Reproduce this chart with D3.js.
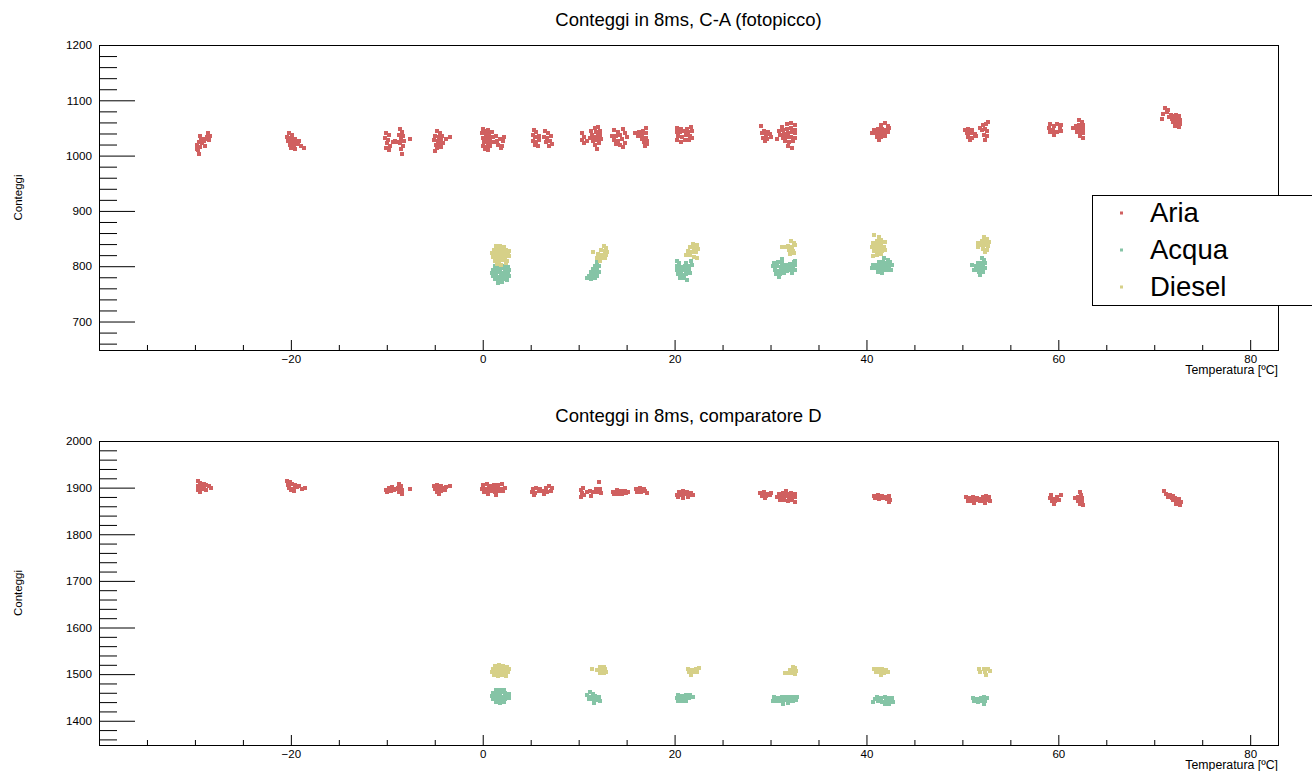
<!DOCTYPE html>
<html>
<head>
<meta charset="utf-8">
<script src="https://cdn.jsdelivr.net/npm/d3@7"></script>
<style>
body{margin:0;background:#fff;}
svg{display:block;font-family:"Liberation Sans",Arial,sans-serif;}
</style>
</head>
<body>
<div id="chart"></div>
<script>
// titles and labels
let titles=[`Conteggi in 8ms, C-A (fotopicco)`,`Conteggi in 8ms, comparatore D`];
let seriesNames=[`Aria`,`Acqua`,`Diesel`];
let seriesColors=[`#d06060`,`#85c4a6`,`#d6d088`];
let xLabel=`Temperatura [ºC]`;
let yLabel=`Conteggi`;
let xTicks=[-20,0,20,40,60,80];
let yTicksTop=[700,800,900,1000,1100,1200];
let yTicksBottom=[1400,1500,1600,1700,1800,1900,2000];

// top panel: [temperatura, conteggi]
let ariaTop=[
[-29.6,1003],[-29.7,1010],[-29.5,1015],[-29.8,1020],[-29.6,1025],[-29.4,1030],[-29.3,1022],[-29.1,1027],[-28.9,1030],[-28.7,1033],[-28.5,1028],[-28.4,1036],[-29.5,1035],[-29.0,1018],[-29.8,1012],[-28.6,1040],
[-20.2,1040],[-19.9,1038],[-20.4,1033],[-20.0,1032],[-19.6,1030],[-20.3,1026],[-19.9,1025],[-19.5,1024],[-20.1,1019],[-19.7,1018],[-19.3,1021],[-20.0,1013],[-19.6,1012],[-19.2,1027],[-18.9,1018],[-18.6,1014],
[-10.1,1040],[-9.8,1037],[-10.2,1032],[-9.9,1028],[-10.0,1022],[-9.7,1018],[-10.1,1013],[-9.8,1010],[-9.4,1025],[-9.1,1026],[-8.9,1024],
[-8.6,1048],[-8.4,1043],[-8.7,1038],[-8.3,1035],[-8.5,1030],[-8.2,1026],[-8.6,1022],[-8.3,1017],[-8.5,1012],[-8.4,1003],[-7.6,1030],
[-4.8,1044],[-4.5,1041],[-5.0,1036],[-4.6,1034],[-4.2,1036],[-5.1,1028],[-4.7,1027],[-4.3,1029],[-4.9,1020],[-4.5,1021],[-4.1,1022],[-4.8,1013],[-4.4,1015],[-5.0,1009],[-3.8,1030],[-3.4,1033],
[0.0,1048],[0.3,1045],[0.6,1046],[-0.1,1040],[0.3,1038],[0.7,1039],[1.0,1042],[0.0,1032],[0.4,1030],[0.8,1031],[1.1,1034],[0.1,1024],[0.5,1023],[0.9,1025],[0.0,1017],[0.4,1016],[0.8,1018],[1.2,1024],[1.5,1027],[1.8,1030],[2.1,1026],[1.6,1020],[2.0,1018],[2.2,1033],[1.4,1035],[0.2,1012],[0.6,1010],[1.9,1013],
[5.3,1046],[5.6,1042],[5.2,1037],[5.5,1033],[5.9,1036],[5.2,1027],[5.6,1025],[5.9,1028],[5.4,1020],[5.8,1017],[6.5,1045],[6.8,1040],[6.4,1034],[6.7,1031],[7.1,1035],[6.6,1024],[7.0,1026],[6.9,1018],[7.2,1021],
[10.4,1040],[10.6,1034],[10.3,1028],[10.6,1022],[10.9,1027],[11.3,1045],[11.7,1050],[12.0,1052],[11.4,1038],[11.8,1042],[12.2,1045],[11.2,1031],[11.6,1034],[12.0,1036],[11.5,1026],[11.9,1028],[12.3,1030],[11.7,1020],[12.1,1022],[11.9,1012],[12.2,1038],
[13.7,1046],[14.1,1042],[14.6,1048],[13.5,1036],[13.9,1035],[14.3,1038],[14.8,1040],[13.7,1028],[14.1,1027],[14.5,1030],[15.0,1033],[13.9,1021],[14.3,1019],[14.8,1023],[14.6,1016],
[15.9,1040],[16.3,1042],[16.7,1044],[17.0,1050],[16.2,1036],[16.6,1037],[17.0,1040],[16.6,1030],[17.0,1032],[16.8,1025],[17.1,1027],[16.9,1018],[17.1,1021],
[20.3,1050],[20.7,1048],[21.3,1049],[21.7,1052],[20.2,1043],[20.6,1042],[21.0,1044],[21.4,1043],[21.8,1045],[20.4,1036],[20.8,1034],[21.2,1037],[21.6,1036],[20.3,1028],[20.7,1025],[21.1,1029],[21.5,1028],[21.8,1031],
[29.0,1054],[29.3,1045],[29.7,1043],[29.1,1040],[29.5,1037],[29.9,1039],[29.2,1032],[29.6,1030],[30.0,1033],[29.4,1026],
[31.2,1051],[31.7,1057],[32.1,1059],[32.5,1055],[30.9,1044],[31.3,1046],[31.7,1048],[32.1,1050],[32.5,1047],[31.0,1038],[31.4,1039],[31.8,1041],[32.2,1042],[32.6,1040],[31.3,1032],[31.7,1033],[32.1,1034],[32.5,1032],[31.5,1026],[31.9,1024],[32.3,1027],[31.8,1018],[32.2,1014],[30.7,1030],
[41.5,1055],[41.9,1059],[42.2,1054],[40.8,1046],[41.2,1048],[41.6,1048],[42.0,1047],[42.3,1050],[40.6,1040],[41.0,1040],[41.4,1041],[41.8,1040],[42.2,1042],[41.1,1034],[41.5,1034],[41.9,1035],[41.3,1029],
[50.3,1046],[50.6,1049],[51.0,1047],[50.5,1040],[50.9,1041],[51.3,1039],[50.6,1033],[51.0,1032],[51.4,1035],[50.8,1029],[51.8,1050],[52.1,1055],[52.5,1058],[52.7,1061],[52.0,1046],[52.4,1048],[52.6,1044],[52.3,1038],[52.6,1036],[52.4,1029],
[59.1,1058],[59.5,1054],[59.9,1058],[60.3,1056],[59.0,1050],[59.4,1047],[60.2,1050],[59.1,1043],[59.5,1040],[59.9,1042],[60.3,1044],[59.6,1037],
[62.2,1064],[62.5,1060],[61.8,1054],[62.2,1056],[62.6,1055],[61.5,1050],[61.9,1048],[62.3,1049],[62.6,1048],[61.9,1042],[62.3,1042],[62.6,1040],[62.3,1035],[62.6,1032],
[71.1,1086],[71.4,1083],[70.9,1076],[71.3,1078],[71.7,1074],[70.8,1066],[71.5,1070],[71.9,1072],[72.3,1074],[72.6,1072],[71.9,1066],[72.3,1066],[72.7,1065],[72.0,1060],[72.4,1059],[72.7,1057],[72.2,1053],[72.6,1051]
];
let acquaTop=[
[1.3,800],[1.7,802],[2.2,801],[2.6,799],[1.1,794],[1.5,795],[1.9,796],[2.3,794],[2.7,793],[1.0,788],[1.4,788],[1.8,789],[2.2,787],[2.6,788],[1.1,782],[1.5,781],[1.9,782],[2.3,781],[2.7,782],[1.3,776],[1.7,775],[2.1,776],[2.5,775],[1.6,770],[2.0,771],
[11.9,807],[11.7,801],[12.1,800],[11.5,795],[11.9,794],[11.3,789],[11.7,789],[12.1,790],[11.1,783],[11.5,782],[11.9,783],[10.9,778],[11.3,777],[11.7,779],
[20.2,810],[20.5,806],[21.2,805],[21.7,810],[20.3,800],[20.7,799],[21.1,800],[21.5,801],[21.8,803],[20.3,793],[20.7,792],[21.1,793],[21.5,794],[20.4,786],[20.8,785],[21.2,786],[21.6,788],[20.6,779],[21.0,778],[21.3,775],
[30.4,806],[30.8,808],[31.2,805],[31.6,802],[32.0,804],[32.4,807],[32.6,810],[30.3,800],[30.7,800],[31.1,799],[31.5,798],[31.9,798],[32.3,800],[32.6,802],[30.5,793],[30.9,792],[31.3,791],[31.7,792],[32.1,793],[32.5,794],[30.6,786],[31.0,786],[31.4,788],[32.2,787],[30.9,781],[31.2,813],
[41.8,815],[42.2,812],[41.3,808],[41.7,807],[42.1,806],[42.5,808],[40.7,803],[41.1,802],[41.5,801],[41.9,800],[42.3,800],[42.7,802],[40.6,797],[41.0,796],[41.4,795],[41.8,793],[42.2,793],[42.6,794],[41.2,789],[41.6,788],
[52.0,815],[52.3,811],[51.6,806],[52.0,806],[52.4,805],[51.0,802],[51.4,800],[51.8,801],[52.2,800],[51.2,794],[51.6,794],[52.0,795],[52.4,797],[51.7,789],[52.1,790],[51.8,784]
];
let dieselTop=[
[1.4,836],[1.8,837],[2.2,835],[1.2,830],[1.6,830],[2.0,831],[2.4,829],[2.7,827],[1.0,824],[1.4,823],[1.8,824],[2.2,823],[2.6,822],[1.1,817],[1.5,816],[1.9,817],[2.3,816],[2.7,818],[1.3,810],[1.7,810],[2.1,811],[2.5,809],[1.5,804],[1.9,803],[2.4,805],
[12.6,836],[12.9,833],[12.3,829],[12.7,828],[13.0,826],[12.0,822],[12.4,821],[12.8,821],[11.9,815],[12.3,815],[12.7,814],[12.2,809],[11.5,826],
[21.9,840],[22.3,838],[21.6,834],[22.0,833],[22.4,831],[21.4,827],[21.8,826],[22.2,825],[21.2,821],[21.6,820],[22.0,817],[22.3,814],
[32.1,845],[32.4,842],[31.8,836],[32.2,835],[32.5,838],[31.2,835],[31.5,834],[31.9,829],[32.3,828],[32.0,822],[32.4,823],
[40.8,856],[41.3,853],[41.5,848],[41.1,846],[40.7,842],[41.1,840],[41.5,841],[41.9,843],[40.6,835],[41.0,834],[41.4,833],[41.8,835],[40.8,828],[41.2,827],[41.6,827],[41.9,829],[41.1,821],[41.5,822],[40.7,818],
[52.3,852],[52.6,849],[52.0,845],[52.4,845],[52.8,843],[51.6,842],[52.0,839],[52.4,838],[52.7,836],[51.6,835],[52.2,832],[52.6,830],[52.4,825]
];

// bottom panel: [temperatura, conteggi]
let ariaBottom=[
[-29.7,1915],[-29.5,1910],[-29.7,1903],[-29.4,1905],[-29.7,1895],[-29.5,1890],[-29.1,1908],[-28.8,1906],[-28.5,1904],[-28.3,1900],[-29.1,1898],[-28.8,1895],[-29.3,1900],
[-20.4,1915],[-20.1,1912],[-20.3,1906],[-19.9,1907],[-19.6,1905],[-20.2,1900],[-19.8,1898],[-19.4,1901],[-19.1,1903],[-19.7,1892],[-20.0,1894],[-18.8,1898],[-18.5,1900],
[-10.1,1895],[-9.8,1899],[-9.5,1902],[-10.0,1890],[-9.6,1892],[-9.3,1895],[-9.0,1897],[-8.7,1907],[-8.5,1903],[-8.8,1899],[-8.4,1895],[-8.7,1890],[-8.4,1887],[-7.6,1897],
[-5.1,1903],[-4.8,1906],[-4.4,1904],[-5.0,1897],[-4.6,1898],[-4.2,1899],[-3.8,1901],[-3.4,1903],[-4.8,1891],[-4.4,1892],[-3.9,1895],[-4.6,1887],
[0.0,1905],[0.4,1907],[0.8,1904],[1.2,1906],[1.6,1905],[2.0,1907],[-0.1,1898],[0.3,1897],[0.7,1899],[1.1,1898],[1.5,1899],[1.9,1898],[2.3,1900],[0.1,1891],[0.5,1890],[0.9,1892],[1.3,1891],[1.7,1892],[2.1,1893],[0.6,1886],[1.4,1885],
[5.2,1898],[5.6,1900],[6.0,1897],[5.1,1891],[5.5,1889],[5.9,1892],[6.3,1893],[6.6,1899],[6.9,1903],[7.2,1900],[6.7,1891],[7.1,1893],[6.4,1887],[5.3,1884],
[10.2,1895],[10.5,1899],[10.3,1888],[10.2,1880],[10.6,1884],[10.9,1891],[11.2,1893],[11.5,1890],[11.8,1896],[12.2,1897],[11.9,1890],[12.3,1889],[12.1,1912],[11.3,1882],
[13.6,1891],[14.0,1894],[14.4,1893],[14.8,1892],[13.7,1886],[14.1,1887],[14.5,1886],[14.9,1888],[15.1,1891],
[16.0,1896],[16.4,1899],[16.8,1897],[16.1,1890],[16.5,1891],[16.9,1892],[17.1,1889],
[20.5,1890],[20.9,1892],[21.3,1891],[21.7,1889],[20.3,1884],[20.7,1885],[21.1,1886],[21.5,1884],[21.9,1885],[20.4,1879],[20.9,1878],[21.4,1879],
[28.9,1889],[29.3,1890],[29.7,1887],[30.0,1889],[29.1,1883],[29.5,1882],[29.9,1884],[29.4,1877],
[30.9,1886],[31.3,1888],[31.7,1887],[32.1,1889],[32.5,1886],[30.7,1880],[31.1,1879],[31.5,1881],[31.9,1880],[32.3,1881],[32.6,1879],[31.0,1874],[31.4,1873],[31.8,1872],[32.2,1873],[32.6,1870],[31.6,1893],
[40.8,1883],[41.2,1884],[41.6,1882],[42.0,1880],[42.4,1881],[40.9,1877],[41.3,1876],[41.7,1877],[42.1,1875],[42.5,1874],[42.3,1869],
[50.4,1880],[50.8,1877],[51.1,1880],[51.5,1878],[51.9,1876],[52.2,1880],[52.5,1883],[52.8,1879],[50.6,1872],[51.0,1871],[51.4,1873],[51.8,1871],[52.1,1872],[52.5,1874],[52.9,1872],[51.2,1867],[52.4,1867],
[59.2,1884],[59.1,1878],[59.5,1876],[59.9,1879],[60.3,1884],[59.3,1871],[59.7,1872],[60.1,1874],[59.6,1865],
[62.3,1890],[62.4,1884],[61.7,1878],[62.1,1879],[62.5,1877],[62.1,1872],[62.5,1871],[62.3,1865],[62.6,1862],
[71.0,1892],[71.2,1887],[71.6,1884],[72.0,1882],[71.4,1880],[71.8,1878],[72.2,1878],[72.6,1876],[72.0,1873],[72.4,1871],[72.8,1869],[72.3,1865],[72.7,1862]
];
let acquaBottom=[
[1.4,1466],[1.8,1467],[2.2,1465],[1.1,1460],[1.5,1460],[1.9,1461],[2.3,1459],[2.7,1458],[1.0,1453],[1.4,1453],[1.8,1454],[2.2,1452],[2.6,1453],[1.1,1446],[1.5,1446],[1.9,1447],[2.3,1446],[2.7,1448],[1.4,1440],[1.8,1439],[2.2,1440],
[11.2,1461],[11.5,1457],[10.9,1455],[11.3,1452],[11.7,1453],[12.1,1450],[11.1,1446],[11.5,1446],[11.9,1445],[12.2,1443],[11.6,1439],
[20.4,1455],[20.8,1454],[21.2,1455],[21.6,1456],[20.3,1449],[20.7,1448],[21.1,1449],[21.5,1448],[21.9,1450],[20.4,1442],[20.8,1443],[21.2,1442],
[30.4,1450],[30.8,1449],[31.2,1451],[31.6,1450],[32.0,1452],[32.4,1451],[32.8,1450],[30.3,1443],[30.7,1443],[31.1,1442],[31.5,1444],[31.9,1443],[32.3,1442],[32.7,1444],[31.3,1437],[31.8,1438],
[40.9,1446],[41.1,1450],[41.5,1448],[41.9,1451],[42.3,1449],[42.7,1448],[40.7,1441],[41.2,1442],[41.6,1441],[42.0,1443],[42.4,1442],[42.8,1441],[41.9,1436],[42.3,1435],
[51.1,1448],[51.5,1447],[51.9,1449],[52.3,1452],[52.6,1448],[51.2,1442],[51.6,1441],[52.0,1442],[52.4,1443],[52.3,1436]
];
let dieselBottom=[
[1.3,1517],[1.7,1519],[2.1,1518],[2.5,1516],[1.1,1511],[1.5,1512],[1.9,1511],[2.3,1512],[2.7,1510],[1.0,1504],[1.4,1504],[1.8,1505],[2.2,1504],[2.6,1505],[1.2,1498],[1.6,1497],[2.0,1498],[2.4,1497],
[11.4,1512],[12.2,1516],[12.6,1515],[11.9,1509],[12.3,1509],[12.7,1510],[12.9,1505],[12.2,1503],[12.6,1502],
[21.4,1512],[21.8,1509],[22.2,1511],[22.5,1513],[21.5,1505],[21.9,1504],[22.3,1505],[21.7,1499],
[32.3,1515],[32.6,1513],[32.0,1509],[32.4,1508],[32.7,1506],[31.5,1503],[31.9,1503],[32.3,1502],[32.6,1500],
[40.8,1511],[41.2,1512],[41.6,1510],[42.0,1508],[41.0,1505],[41.4,1504],[41.8,1503],[42.2,1505],[41.5,1498],
[51.7,1512],[51.8,1505],[52.3,1512],[52.7,1510],[52.9,1506],[52.4,1504],[52.5,1499]
];

let Setting={
    width:1312,height:771,
    frame:{left:99,right:1278},
    xDomain:[-40,82.9],
    panels:[
        {top:45,bottom:350,yDomain:[648.5,1200],yTicks:yTicksTop,series:[ariaTop,acquaTop,dieselTop]},
        {top:441,bottom:745,yDomain:[1348,2000],yTicks:yTicksBottom,series:[ariaBottom,acquaBottom,dieselBottom]}
    ],
    marker:4
};

let svg=d3.select(`#chart`).append(`svg`)
    .attr(`width`,Setting.width)
    .attr(`height`,Setting.height);

Setting.panels.forEach((p,i)=>drawPanel(p,i));
drawLegend();

function drawPanel(p,i){
    let x=d3.scaleLinear().domain(Setting.xDomain).range([Setting.frame.left,Setting.frame.right]);
    let y=d3.scaleLinear().domain(p.yDomain).range([p.bottom,p.top]);
    let g=svg.append(`g`).attr(`class`,`panel`);

    //title
    g.append(`text`)
        .attr(`x`,(Setting.frame.left+Setting.frame.right)/2)
        .attr(`y`,p.top-19)
        .attr(`text-anchor`,`middle`)
        .attr(`font-size`,18.5)
        .text(titles[i]);

    //points
    let s=Setting.marker;
    p.series.forEach((pts,k)=>{
        g.append(`g`).selectAll(`rect`)
            .data(pts)
            .enter()
            .append(`rect`)
            .attr(`x`,d=>Math.round(x(d[0])-s/2))
            .attr(`y`,d=>Math.round(y(d[1])-s/2))
            .attr(`width`,s)
            .attr(`height`,s)
            .attr(`shape-rendering`,`crispEdges`)
            .attr(`fill`,seriesColors[k]);
    });

    //x axis, ticks inside the frame
    let xMinor=d3.range(-35,83,5).filter(v=>v%20!=0);
    g.append(`g`)
        .attr(`transform`,`translate(0,${p.bottom})`)
        .call(d3.axisTop(x).tickValues(xMinor).tickSize(5).tickFormat(``))
        .call(a=>a.select(`.domain`).remove());
    let xAxis=g.append(`g`)
        .attr(`transform`,`translate(0,${p.bottom})`)
        .call(d3.axisTop(x).tickValues(xTicks).tickSize(10).tickFormat(d=>d<0?`\u2212${-d}`:d));
    xAxis.select(`.domain`).remove();
    xAxis.selectAll(`text`).attr(`y`,13).attr(`font-size`,11.5).attr(`font-family`,`"Liberation Sans",Arial,sans-serif`).attr(`fill`,`#000`);

    g.append(`text`)
        .attr(`x`,Setting.frame.right)
        .attr(`y`,p.bottom+24)
        .attr(`text-anchor`,`end`)
        .attr(`font-size`,12.3)
        .text(xLabel);

    //y axis
    let yMinor=d3.range(p.yDomain[0]-p.yDomain[0]%20+20,p.yDomain[1],20).filter(v=>v%100!=0);
    g.append(`g`)
        .attr(`transform`,`translate(${Setting.frame.left},0)`)
        .call(d3.axisRight(y).tickValues(yMinor).tickSize(18).tickFormat(``))
        .call(a=>a.select(`.domain`).remove());
    let yAxis=g.append(`g`)
        .attr(`transform`,`translate(${Setting.frame.left},0)`)
        .call(d3.axisRight(y).tickValues(p.yTicks).tickSize(36).tickFormat(d3.format(`d`)));
    yAxis.select(`.domain`).remove();
    yAxis.selectAll(`text`).attr(`x`,-7).attr(`text-anchor`,`end`).attr(`font-size`,11.7).attr(`font-family`,`"Liberation Sans",Arial,sans-serif`).attr(`fill`,`#000`);

    g.append(`text`)
        .attr(`transform`,`translate(22,${(p.top+p.bottom)/2}) rotate(-90)`)
        .attr(`text-anchor`,`middle`)
        .attr(`font-size`,11.5)
        .text(yLabel);

    //frame
    g.append(`rect`)
        .attr(`x`,Setting.frame.left+0.5)
        .attr(`y`,p.top+0.5)
        .attr(`width`,Setting.frame.right-Setting.frame.left)
        .attr(`height`,p.bottom-p.top)
        .attr(`fill`,`none`)
        .attr(`stroke`,`#000`);
}

function drawLegend(){
    let lg=svg.append(`g`).attr(`class`,`legend`);
    lg.append(`rect`)
        .attr(`x`,1092.5).attr(`y`,195.5)
        .attr(`width`,230).attr(`height`,110)
        .attr(`fill`,`#fff`).attr(`stroke`,`#000`);
    seriesNames.forEach((n,k)=>{
        let cy=213+k*37;
        lg.append(`rect`)
            .attr(`x`,1120).attr(`y`,cy-1.5)
            .attr(`width`,3).attr(`height`,3)
            .attr(`fill`,seriesColors[k]);
        lg.append(`text`)
            .attr(`x`,1150).attr(`y`,cy+9)
            .attr(`font-size`,27.5)
            .text(n);
    });
}
</script>
</body>
</html>
